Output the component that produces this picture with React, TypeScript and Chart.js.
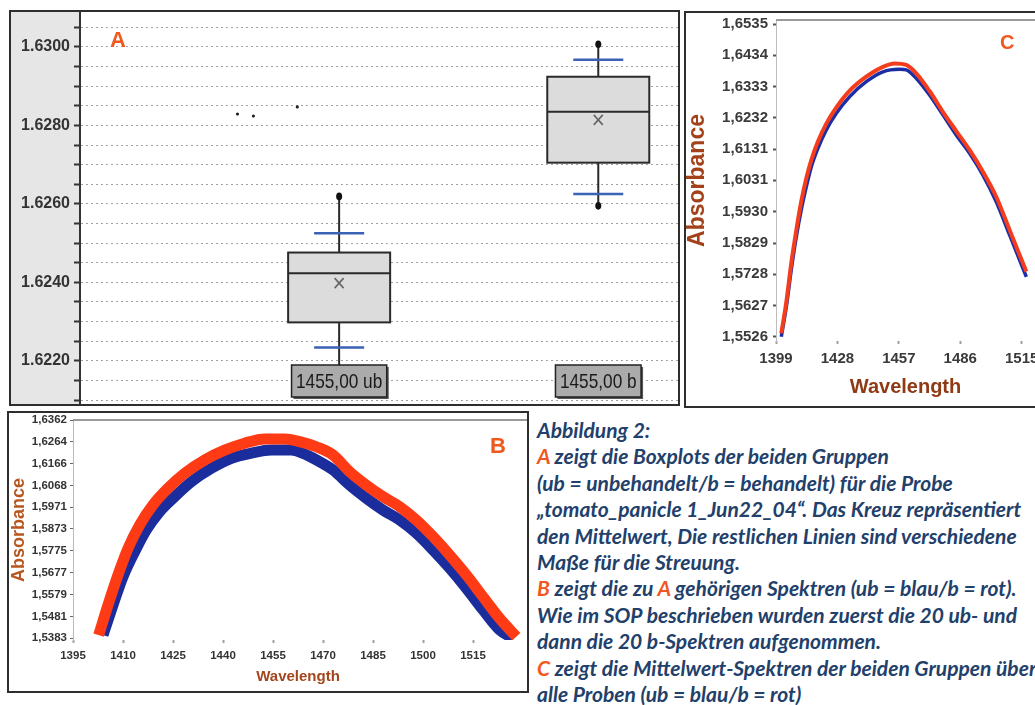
import React, { useEffect, useRef } from 'react';
import { Chart, registerables } from 'chart.js';

Chart.register(...registerables);

// ---------------- Panel A: boxplots ----------------
const boxLabels = ['1455,00 ub', '1455,00 b'];
const boxPositions = [1.3, 2.6];
const boxMin = [1.6218, 1.62595];
const boxP5 = [1.62234, 1.62625];
const boxQ1 = [1.62298, 1.62705];
const boxMedian = [1.62423, 1.62835];
const boxMean = [1.62398, 1.62814];
const boxQ3 = [1.62476, 1.62924];
const boxP95 = [1.62525, 1.62967];
const boxMax = [1.62619, 1.63007];
const strayX = [0.79, 0.87, 1.09];
const strayY = [1.62829, 1.62824, 1.62847];
const aTickValues = [
  1.621, 1.6215, 1.622, 1.6225, 1.623, 1.6235, 1.624, 1.6245, 1.625, 1.6255,
  1.626, 1.6265, 1.627, 1.6275, 1.628, 1.6285, 1.629, 1.6295, 1.63, 1.6305,
];
const aMajorTicks = [1.622, 1.624, 1.626, 1.628, 1.63];

// ---------------- Panel B: all spectra (bands) ----------------
const bWlB = [1402.7, 1405.5, 1408.5, 1411.5, 1415, 1419, 1423.5, 1428.5, 1434.5, 1440.5, 1446.5, 1452.5, 1458.5, 1463, 1468, 1473, 1478, 1483, 1488, 1493, 1498, 1503, 1508, 1513, 1518, 1523, 1528];
const bAbsB = [1.5397, 1.5532, 1.5667, 1.5786, 1.5891, 1.5981, 1.6056, 1.6123, 1.6183, 1.6227, 1.6258, 1.6277, 1.6277, 1.6265, 1.6242, 1.6205, 1.613, 1.607, 1.6018, 1.5973, 1.5913, 1.5839, 1.5756, 1.5667, 1.5569, 1.5472, 1.539];
const bWlUb = [1404, 1407, 1410, 1413.5, 1417, 1421, 1425.5, 1430.5, 1436.5, 1442.5, 1448.5, 1454.5, 1460.5, 1464, 1468, 1473, 1478, 1483, 1488, 1493, 1498, 1503, 1508, 1513, 1518, 1523, 1527];
const bAbsUb = [1.5397, 1.5532, 1.5659, 1.5771, 1.5869, 1.5951, 1.6018, 1.6085, 1.6145, 1.619, 1.6213, 1.6227, 1.6227, 1.6212, 1.6183, 1.6138, 1.607, 1.6011, 1.5958, 1.5913, 1.5854, 1.5779, 1.5697, 1.5607, 1.551, 1.542, 1.5383];
const bYTicks = [1.5383, 1.5481, 1.5579, 1.5677, 1.5775, 1.5873, 1.5971, 1.6068, 1.6166, 1.6264, 1.6362];
const bXTicks = [1395, 1410, 1425, 1440, 1455, 1470, 1485, 1500, 1515];

// ---------------- Panel C: mean spectra ----------------
const cWlUb = [1401.5, 1403.9, 1406.2, 1408.6, 1410.9, 1413.3, 1415.7, 1418.8, 1422.7, 1427.5, 1433.8, 1441.6, 1449.5, 1457.4, 1460.5, 1465.2, 1471.5, 1477.8, 1484.1, 1490.4, 1496.7, 1503, 1509.3, 1517.2];
const cMeanUb = [1.5527, 1.5624, 1.5742, 1.5849, 1.5935, 1.601, 1.6075, 1.6134, 1.6193, 1.6247, 1.6301, 1.6349, 1.6381, 1.6389, 1.6387, 1.636, 1.6306, 1.6242, 1.6177, 1.6118, 1.6048, 1.5962, 1.5855, 1.572];
const cWlB = [1401.5, 1403.9, 1406.2, 1408.6, 1410.9, 1413.3, 1415.7, 1418.8, 1422.7, 1427.5, 1433.8, 1441.6, 1449.5, 1455, 1460.5, 1465.2, 1471.5, 1477.8, 1484.1, 1490.4, 1496.7, 1503, 1509.3, 1517.2];
const cMeanB = [1.5538, 1.564, 1.5764, 1.5871, 1.5962, 1.6038, 1.6097, 1.6156, 1.6213, 1.6266, 1.632, 1.6365, 1.6397, 1.6408, 1.6403, 1.6376, 1.6319, 1.6252, 1.619, 1.6129, 1.6059, 1.5978, 1.5871, 1.5737];
const cYTicks = [1.5526, 1.5627, 1.5728, 1.5829, 1.593, 1.6031, 1.6131, 1.6232, 1.6333, 1.6434, 1.6535];
const cXTicks = [1399, 1428, 1457, 1486, 1515];

const ARIAL = '"Liberation Sans", Arial, sans-serif';
const TITLE_COLOR = '#a3461b';
const RED = '#f0581e';

const pts = (xs: number[], ys: number[]) => xs.map((x, i) => ({ x, y: ys[i] }));
const comma = (v: number) => v.toFixed(4).replace('.', ',');

const grayBandPlugin = {
  id: 'grayBand',
  beforeDraw(chart: any) {
    const { ctx, chartArea } = chart;
    ctx.save();
    ctx.fillStyle = '#e6e6e6';
    ctx.fillRect(0, 0, chartArea.left, chart.height);
    ctx.restore();
  },
};

const topLinePlugin = {
  id: 'topLine',
  afterDraw(chart: any) {
    const { ctx, chartArea } = chart;
    ctx.save();
    ctx.strokeStyle = '#9a9a9a';
    ctx.lineWidth = 2;
    ctx.beginPath();
    ctx.moveTo(chartArea.left, chartArea.top);
    ctx.lineTo(chart.width, chartArea.top);
    ctx.stroke();
    ctx.restore();
  },
};

const boxPlugin = {
  id: 'boxes',
  afterDatasetsDraw(chart: any) {
    const { ctx, chartArea } = chart;
    const xs = chart.scales.x;
    const ys = chart.scales.y;
    ctx.save();
    boxLabels.forEach((label, i) => {
      const cx = xs.getPixelForValue(boxPositions[i]);
      const half = 51;
      const yMin = ys.getPixelForValue(boxMin[i]);
      const yMax = ys.getPixelForValue(boxMax[i]);
      const yQ1 = ys.getPixelForValue(boxQ1[i]);
      const yQ3 = ys.getPixelForValue(boxQ3[i]);
      const yMed = ys.getPixelForValue(boxMedian[i]);
      const yMean = ys.getPixelForValue(boxMean[i]);
      const yP5 = ys.getPixelForValue(boxP5[i]);
      const yP95 = ys.getPixelForValue(boxP95[i]);
      // whiskers
      ctx.strokeStyle = '#2a2a2a';
      ctx.lineWidth = 2;
      ctx.beginPath();
      ctx.moveTo(cx, yMax);
      ctx.lineTo(cx, yQ3);
      ctx.moveTo(cx, yQ1);
      ctx.lineTo(cx, yMin);
      ctx.stroke();
      // end dots
      ctx.fillStyle = '#111';
      [yMax, yMin].forEach((y) => {
        ctx.beginPath();
        ctx.ellipse(cx, y, 3, 3.8, 0, 0, Math.PI * 2);
        ctx.fill();
      });
      // box
      ctx.fillStyle = '#dcdcdc';
      ctx.fillRect(cx - half, yQ3, half * 2, yQ1 - yQ3);
      ctx.strokeStyle = '#2a2a2a';
      ctx.lineWidth = 2;
      ctx.strokeRect(cx - half, yQ3, half * 2, yQ1 - yQ3);
      ctx.beginPath();
      ctx.moveTo(cx - half, yMed);
      ctx.lineTo(cx + half, yMed);
      ctx.stroke();
      // mean cross
      ctx.strokeStyle = '#666';
      ctx.lineWidth = 1.6;
      ctx.beginPath();
      ctx.moveTo(cx - 4.5, yMean - 5);
      ctx.lineTo(cx + 4.5, yMean + 5);
      ctx.moveTo(cx + 4.5, yMean - 5);
      ctx.lineTo(cx - 4.5, yMean + 5);
      ctx.stroke();
      // blue caps
      ctx.strokeStyle = '#3a62b5';
      ctx.lineWidth = 2.5;
      ctx.beginPath();
      ctx.moveTo(cx - 25, yP5);
      ctx.lineTo(cx + 25, yP5);
      ctx.moveTo(cx - 25, yP95);
      ctx.lineTo(cx + 25, yP95);
      ctx.stroke();
      // category label box (narrow text)
      const squeeze = 0.82;
      ctx.font = `21px ${ARIAL}`;
      const tw = ctx.measureText(label).width * squeeze;
      const bw = tw + 9;
      const bh = 32;
      const bx = cx - bw / 2;
      const by = chartArea.bottom - 7 - bh;
      ctx.fillStyle = '#555';
      ctx.fillRect(bx + 2, by + 2, bw, bh);
      ctx.fillStyle = '#ababab';
      ctx.fillRect(bx, by, bw, bh);
      ctx.strokeStyle = '#222';
      ctx.lineWidth = 1.5;
      ctx.strokeRect(bx, by, bw, bh);
      ctx.save();
      ctx.translate(cx, by + bh / 2 + 1);
      ctx.scale(squeeze, 1);
      ctx.fillStyle = '#1a1a1a';
      ctx.textAlign = 'center';
      ctx.textBaseline = 'middle';
      ctx.fillText(label, 0, 0);
      ctx.restore();
    });
    ctx.restore();
  },
};

function buildA(): any {
  return {
    type: 'scatter',
    data: {
      datasets: [
        {
          label: 'stray',
          data: pts(strayX, strayY),
          pointRadius: 1.6,
          pointBackgroundColor: '#222',
          pointBorderWidth: 0,
        },
      ],
    },
    options: {
      responsive: false,
      animation: false,
      devicePixelRatio: 1,
      layout: { padding: 0, autoPadding: false },
      plugins: { legend: { display: false }, tooltip: { enabled: false } },
      scales: {
        x: { type: 'linear', display: false, min: 0, max: 3 },
        y: {
          min: 1.6209,
          max: 1.63089,
          afterBuildTicks: (ax: any) => {
            ax.ticks = aTickValues.map((v) => ({ value: v }));
          },
          afterFit: (ax: any) => {
            ax.width = 69;
            ax.paddingTop = 0;
            ax.paddingBottom = 0;
          },
          ticks: {
            autoSkip: false,
            padding: 4,
            color: '#333',
            font: { family: ARIAL, size: 16, weight: 'bold' },
            callback: (v: number) =>
              aMajorTicks.some((m) => Math.abs(m - v) < 1e-7) ? v.toFixed(4) : '',
          },
          grid: { color: '#a2a2a2', lineWidth: 1, tickLength: 6, tickColor: '#333', tickWidth: 2 },
          border: { display: true, color: '#333', width: 2, dash: [2, 3] },
        },
      },
    },
    plugins: [grayBandPlugin, boxPlugin],
  };
}

function buildB(): any {
  return {
    type: 'line',
    data: {
      datasets: [
        { label: 'b', data: pts(bWlB, bAbsB), borderColor: '#ff3b16', borderWidth: 11, pointRadius: 0, cubicInterpolationMode: 'monotone', clip: 0 },
        { label: 'ub', data: pts(bWlUb, bAbsUb), borderColor: '#1b2d9c', borderWidth: 11, pointRadius: 0, cubicInterpolationMode: 'monotone', clip: 0 },
      ],
    },
    options: {
      responsive: false,
      animation: false,
      devicePixelRatio: 1,
      layout: { padding: { top: 7, right: 4, left: 0, bottom: 0 }, autoPadding: false },
      plugins: { legend: { display: false }, tooltip: { enabled: false } },
      scales: {
        x: {
          type: 'linear',
          min: 1395,
          max: 1530,
          afterBuildTicks: (ax: any) => {
            ax.ticks = bXTicks.map((v) => ({ value: v }));
          },
          afterFit: (ax: any) => {
            ax.height = 51;
            ax.paddingLeft = 0;
            ax.paddingRight = 0;
          },
          ticks: {
            autoSkip: false,
            maxRotation: 0,
            padding: 6,
            color: '#333',
            font: { family: ARIAL, size: 11.5, weight: 'bold' },
            callback: (v: number) => String(v),
          },
          grid: { drawOnChartArea: false, tickLength: 3, tickColor: '#a0a0a0', tickWidth: 2 },
          border: { display: false },
          title: {
            display: true,
            text: 'Wavelength',
            color: TITLE_COLOR,
            font: { family: ARIAL, size: 15, weight: 'bold', lineHeight: 1.2 },
            padding: { top: 0, bottom: 5 },
          },
        },
        y: {
          min: 1.5375,
          max: 1.6362,
          afterBuildTicks: (ax: any) => {
            ax.ticks = bYTicks.map((v) => ({ value: v }));
          },
          afterFit: (ax: any) => {
            ax.width = 64;
            ax.paddingTop = 0;
            ax.paddingBottom = 0;
          },
          ticks: {
            autoSkip: false,
            padding: 3,
            color: '#333',
            font: { family: ARIAL, size: 11.5, weight: 'bold' },
            callback: (v: number) => comma(v),
          },
          grid: { drawOnChartArea: false, tickLength: 3, tickColor: '#666', tickWidth: 1 },
          border: { display: true, color: '#bdbdbd', width: 1 },
          title: {
            display: true,
            text: 'Absorbance',
            color: '#b8561f',
            font: { family: ARIAL, size: 18, weight: 'bold', lineHeight: 1 },
            padding: { top: 1, bottom: 0 },
          },
        },
      },
    },
    plugins: [topLinePlugin],
  };
}

function buildC(): any {
  return {
    type: 'line',
    data: {
      datasets: [
        { label: 'b mean', data: pts(cWlB, cMeanB), borderColor: '#f43d1c', borderWidth: 4, pointRadius: 0, cubicInterpolationMode: 'monotone', clip: 0 },
        { label: 'ub mean', data: pts(cWlUb, cMeanUb), borderColor: '#1c2ea6', borderWidth: 3.5, pointRadius: 0, cubicInterpolationMode: 'monotone', clip: 0 },
      ],
    },
    options: {
      responsive: false,
      animation: false,
      devicePixelRatio: 1,
      layout: { padding: { top: 7, right: 0, left: 0, bottom: 0 }, autoPadding: false },
      plugins: { legend: { display: false }, tooltip: { enabled: false } },
      scales: {
        x: {
          type: 'linear',
          min: 1399,
          max: 1521.3,
          afterBuildTicks: (ax: any) => {
            ax.ticks = cXTicks.map((v) => ({ value: v }));
          },
          afterFit: (ax: any) => {
            ax.height = 65;
            ax.paddingLeft = 0;
            ax.paddingRight = 0;
          },
          ticks: {
            autoSkip: false,
            maxRotation: 0,
            padding: 6,
            color: '#3a3a3a',
            font: { family: ARIAL, size: 15, weight: 'bold' },
            callback: (v: number) => String(v),
          },
          grid: { drawOnChartArea: false, tickLength: 3, tickColor: '#a0a0a0', tickWidth: 2 },
          border: { display: false },
          title: {
            display: true,
            text: 'Wavelength',
            color: '#8f3a14',
            font: { family: ARIAL, size: 20, weight: 'bold', lineHeight: 1.2 },
            padding: { top: 0, bottom: 7 },
          },
        },
        y: {
          min: 1.55131,
          max: 1.65479,
          afterBuildTicks: (ax: any) => {
            ax.ticks = cYTicks.map((v) => ({ value: v }));
          },
          afterFit: (ax: any) => {
            ax.width = 90;
            ax.paddingTop = 0;
            ax.paddingBottom = 0;
          },
          ticks: {
            autoSkip: false,
            padding: 5,
            color: '#3a3a3a',
            font: { family: ARIAL, size: 15, weight: 'bold' },
            callback: (v: number) => comma(v),
          },
          grid: { drawOnChartArea: false, tickLength: 3, tickColor: '#555', tickWidth: 2 },
          border: { display: true, color: '#bdbdbd', width: 1 },
          title: {
            display: true,
            text: 'Absorbance',
            color: '#a3421a',
            font: { family: ARIAL, size: 23, weight: 'bold', lineHeight: 1 },
            padding: { top: 0, bottom: 0 },
          },
        },
      },
    },
    plugins: [topLinePlugin],
  };
}

function ChartCanvas(props: { build: () => any; left: number; top: number; width: number; height: number }) {
  const ref = useRef<HTMLCanvasElement>(null);
  useEffect(() => {
    const chart = new Chart(ref.current as HTMLCanvasElement, props.build());
    return () => chart.destroy();
  }, []);
  return (
    <canvas
      ref={ref}
      width={props.width}
      height={props.height}
      style={{ position: 'absolute', left: props.left, top: props.top, width: props.width, height: props.height }}
    />
  );
}

function Frame(props: { left: number; top: number; width: number; height: number }) {
  return (
    <div
      style={{
        position: 'absolute',
        left: props.left,
        top: props.top,
        width: props.width,
        height: props.height,
        border: '2px solid #2e2e2e',
        boxSizing: 'border-box',
        pointerEvents: 'none',
      }}
    />
  );
}

const R = (t: string) => <span style={{ color: RED }}>{t}</span>;

export default function App() {
  return (
    <div
      style={{
        position: 'absolute',
        left: 0,
        top: 0,
        width: 1035,
        height: 705,
        overflow: 'hidden',
        background: '#fff',
      }}
    >
      <ChartCanvas build={buildA} left={11} top={12} width={667} height={392} />
      <ChartCanvas build={buildB} left={9} top={413} width={518} height={278} />
      <ChartCanvas build={buildC} left={686} top={13} width={349} height={393} />
      <Frame left={9} top={10} width={671} height={396} />
      <Frame left={7} top={411} width={522} height={282} />
      <Frame left={684} top={11} width={400} height={397} />
      <div style={{ position: 'absolute', left: 110, top: 27, color: RED, font: `bold 22px ${ARIAL}` }}>A</div>
      <div style={{ position: 'absolute', left: 490, top: 433, color: RED, font: `bold 22px ${ARIAL}` }}>B</div>
      <div style={{ position: 'absolute', left: 1000, top: 31, color: RED, font: `bold 20px ${ARIAL}` }}>C</div>
      <div
        style={{
          position: 'absolute',
          left: 537,
          top: 417,
          color: '#22406a',
          font: 'italic 700 21px Lato, "Open Sans", sans-serif',
          lineHeight: '26.4px',
          whiteSpace: 'nowrap',
        }}
      >
        <div>Abbildung 2:</div>
        <div>{R('A')} zeigt die Boxplots der beiden Gruppen</div>
        <div>(ub = unbehandelt/b = behandelt) für die Probe</div>
        <div>„tomato_panicle 1_Jun22_04“. Das Kreuz repräsentiert</div>
        <div>den Mittelwert, Die restlichen Linien sind verschiedene</div>
        <div>Maße für die Streuung.</div>
        <div>{R('B')} zeigt die zu {R('A')} gehörigen Spektren (ub = blau/b = rot).</div>
        <div>Wie im SOP beschrieben wurden zuerst die 20 ub- und</div>
        <div>dann die 20 b-Spektren aufgenommen.</div>
        <div>{R('C')} zeigt die Mittelwert-Spektren der beiden Gruppen über</div>
        <div>alle Proben (ub = blau/b = rot)</div>
      </div>
    </div>
  );
}
